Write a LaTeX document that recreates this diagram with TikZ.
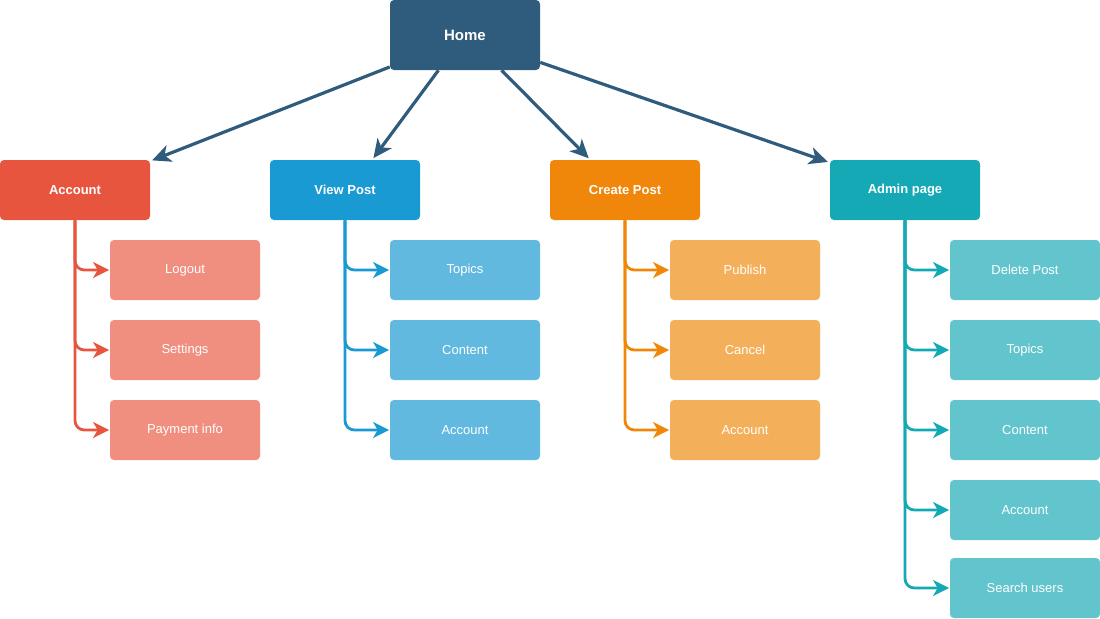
\documentclass[tikz,border=0pt]{standalone}
\usepackage{fontspec}
\setmainfont{Liberation Sans}
\usetikzlibrary{arrows.meta}
\definecolor{homeblue}{HTML}{2F5B7C}
\definecolor{accred}{HTML}{E8553F}
\definecolor{accredlight}{HTML}{F08E80}
\definecolor{viewblue}{HTML}{1A9AD3}
\definecolor{viewbluelight}{HTML}{62B9E0}
\definecolor{createorange}{HTML}{F0870A}
\definecolor{createorangelight}{HTML}{F4AF5A}
\definecolor{adminteal}{HTML}{14A9B5}
\definecolor{adminteallight}{HTML}{62C5CD}
\begin{document}
\begin{tikzpicture}[x=0.75pt, y=-0.75pt,
  box/.style={rectangle, rounded corners=3pt, minimum width=112.5pt, minimum height=45pt, inner sep=0pt, text=white, font=\fontsize{9.75}{11}\selectfont},
  topbox/.style={box, font=\fontsize{9.75}{11}\selectfont\bfseries},
  homebox/.style={box, minimum height=52.5pt, font=\fontsize{11.25}{13}\selectfont\bfseries},
  mainarrow/.style={draw=homeblue, line width=2.4pt, shorten >=1.5pt, -{Stealth[length=14pt, width=13pt, inset=4pt]}},
  subarrow/.style={line width=2.1pt, rounded corners=7pt, shorten >=0.5pt, -{Stealth[length=12pt, width=12pt, inset=3.5pt]}}]
  \useasboundingbox (0,0) rectangle (1100,618);
  \node[homebox, fill=homeblue] (home) at (465,35) {Home};
  \node[topbox, fill=accred]        (account) at (75,190)  {Account};
  \node[topbox, fill=viewblue]      (vpost)   at (345,190) {View Post};
  \node[topbox, fill=createorange]  (cpost)   at (625,190) {Create Post};
  \node[topbox, fill=adminteal]     (admin)   at (905,190) {Admin page};
  \node[box, fill=accredlight] (logout)   at (185,270) {Logout};
  \node[box, fill=accredlight] (settings) at (185,350) {Settings};
  \node[box, fill=accredlight] (payment)  at (185,430) {Payment info};
  \node[box, fill=viewbluelight] (vtopics)  at (465,270) {Topics};
  \node[box, fill=viewbluelight] (vcontent) at (465,350) {Content};
  \node[box, fill=viewbluelight] (vaccount) at (465,430) {Account};
  \node[box, fill=createorangelight] (publish)  at (745,270) {Publish};
  \node[box, fill=createorangelight] (cancel)   at (745,350) {Cancel};
  \node[box, fill=createorangelight] (caccount) at (745,430) {Account};
  \node[box, fill=adminteallight] (delpost)  at (1025,270) {Delete Post};
  \node[box, fill=adminteallight] (atopics)  at (1025,350) {Topics};
  \node[box, fill=adminteallight] (acontent) at (1025,430) {Content};
  \node[box, fill=adminteallight] (aaccount) at (1025,510) {Account};
  \node[box, fill=adminteallight] (search)   at (1025,588) {Search users};
  \draw[mainarrow] (home.203) -- (account.21);
  \draw[mainarrow] (home.233) -- (vpost.48);
  \draw[mainarrow] (home.316) -- (cpost.139);
  \draw[mainarrow] (home.340) -- (admin.160);
  \draw[subarrow, draw=accred] (account.south) |- (logout.west);
  \draw[subarrow, draw=accred] (account.south) |- (settings.west);
  \draw[subarrow, draw=accred] (account.south) |- (payment.west);
  \draw[subarrow, draw=viewblue] (vpost.south) |- (vtopics.west);
  \draw[subarrow, draw=viewblue] (vpost.south) |- (vcontent.west);
  \draw[subarrow, draw=viewblue] (vpost.south) |- (vaccount.west);
  \draw[subarrow, draw=createorange] (cpost.south) |- (publish.west);
  \draw[subarrow, draw=createorange] (cpost.south) |- (cancel.west);
  \draw[subarrow, draw=createorange] (cpost.south) |- (caccount.west);
  \draw[subarrow, draw=adminteal] (admin.south) |- (delpost.west);
  \draw[subarrow, draw=adminteal] (admin.south) |- (atopics.west);
  \draw[subarrow, draw=adminteal] (admin.south) |- (acontent.west);
  \draw[subarrow, draw=adminteal] (admin.south) |- (aaccount.west);
  \draw[subarrow, draw=adminteal] (admin.south) |- (search.west);
\end{tikzpicture}
\end{document}
